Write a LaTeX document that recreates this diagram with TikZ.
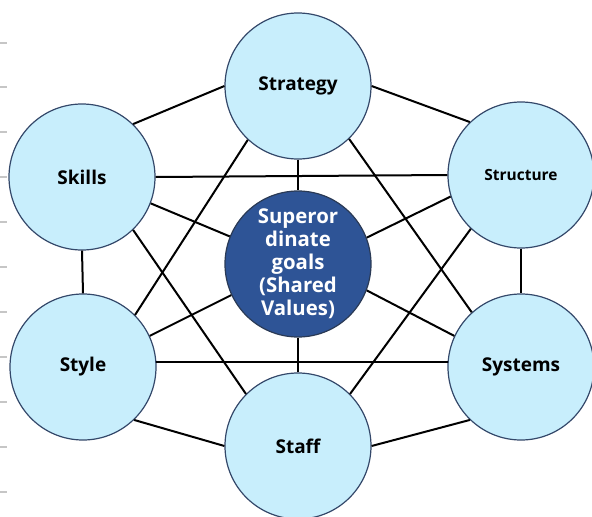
\documentclass[tikz,border=0pt]{standalone}
\usepackage{fontspec}
\setmainfont{Open Sans}
\usepackage{tikz}
\usetikzlibrary{calc,positioning,shapes}

\definecolor{lightfill}{RGB}{200,238,252}
\definecolor{rimblue}{RGB}{52,72,106}
\definecolor{goalblue}{RGB}{46,84,150}

\begin{document}
\begin{tikzpicture}
      \tikzstyle{elem}=[circle,draw=rimblue,line width=.03cm,fill=lightfill,minimum size=3.65cm,inner sep=0pt,font=\bfseries\fontsize{13.5}{16}\selectfont]
      \tikzstyle{core}=[circle,draw=rimblue!80!black,line width=.03cm,fill=goalblue,text=white,minimum size=3.65cm,inner sep=0pt,align=center,font=\bfseries\fontsize{14.5}{16.4}\selectfont]
      \tikzstyle{link}=[line width=.05cm,black]
      \useasboundingbox (0,0) rectangle (14.8,-12.925);
      % ruler marks on the left edge
      \foreach \y in {1.075,2.175,3.3,4.425,5.55,6.675,7.8,8.925,10.05,11.175,12.3}
        \draw[gray!45,line width=.03cm] (0,-\y) -- (0.18,-\y);

      \node[core] (goals) at (7.45,-6.6) {Superor\\dinate\\goals\\(Shared\\Values)};
      \node[elem] (strategy) at (7.45,-2.15) {Strategy};
      \node[elem] (skills) at (2.05,-4.425) {Skills};
      \node[elem] (structure) at (13.025,-4.375) {\fontsize{11}{13}\selectfont Structure};
      \node[elem] (style) at (2.075,-9.175) {Style};
      \node[elem] (systems) at (13.025,-9.175) {Systems};
      \node[elem] (staff) at (7.45,-11.15) {Staff};

      \draw[link] (strategy.180) -- (skills.46);
      \draw[link] (strategy.0) -- (structure.134);
      \draw[link] (strategy.-133) -- (style.45);
      \draw[link] (strategy.-46) -- (systems.132);
      \draw[link] (strategy.-90) -- (goals.90);
      \draw[link] (skills.0) -- (structure.180);
      \draw[link] (skills.-21) -- (goals.158);
      \draw[link] (skills.-46) -- (staff.135);
      \draw[link] (skills.-90) -- (style.90);
      \draw[link] (structure.197) -- (goals.21);
      \draw[link] (structure.227) -- (staff.45);
      \draw[link] (structure.-90) -- (systems.90);
      \draw[link] (style.4) -- (systems.176);
      \draw[link] (style.25) -- (goals.205);
      \draw[link] (style.-46) -- (staff.180);
      \draw[link] (systems.155) -- (goals.-21);
      \draw[link] (systems.-134) -- (staff.0);
      \draw[link] (staff.90) -- (goals.-90);
    \end{tikzpicture}
\end{document}
